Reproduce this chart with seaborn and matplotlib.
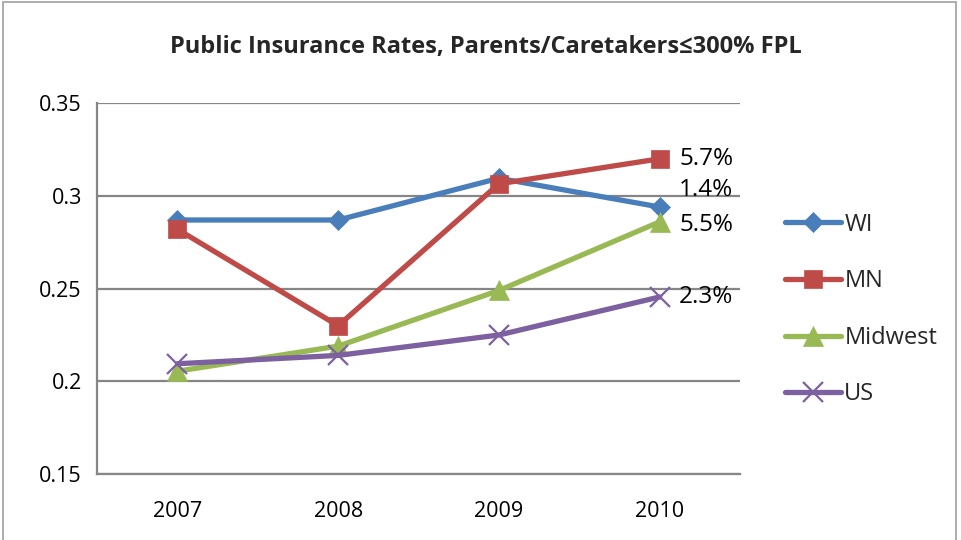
import matplotlib
matplotlib.use("Agg")
import matplotlib.pyplot as plt
import seaborn as sns
import pandas as pd
from matplotlib.lines import Line2D
from matplotlib.patches import Rectangle

years = [2007, 2008, 2009, 2010]
wi = [0.287, 0.287, 0.3095, 0.294]
mn = [0.282, 0.230, 0.3065, 0.320]
midwest = [0.2055, 0.219, 0.249, 0.286]
us = [0.2095, 0.214, 0.225, 0.2455]
series_names = ["WI", "MN", "Midwest", "US"]
end_labels = ["1.4%", "5.7%", "5.5%", "2.3%"]
title = "Public Insurance Rates, Parents/Caretakers\u2264300% FPL"

colors = ["#4A7EBB", "#BE4B48", "#98B954", "#7D60A0"]
markers = ["D", "s", "^", "x"]
msizes = [10.5, 13.5, 14, 14]
label_offsets = [(14, 12), (14, 0), (14, -2), (14, 0)]
LW = 3.8

sns.set_theme(style="white")
plt.rcParams['font.family'] = ['Open Sans', 'DejaVu Sans']

df = pd.DataFrame({
    "year": years * 4,
    "value": wi + mn + midwest + us,
    "series": sum([[n] * 4 for n in series_names], []),
})

fig = plt.figure(figsize=(9.61, 5.40), dpi=100)
ax = fig.add_axes([0.101, 0.122, 0.669, 0.687])


def mew(m):
    return 1.6 if m == "x" else 0.5


for i, name in enumerate(series_names):
    sub = df[df["series"] == name]
    sns.lineplot(data=sub, x="year", y="value", ax=ax, color=colors[i],
                 marker=markers[i], markersize=msizes[i], linewidth=LW,
                 markeredgewidth=mew(markers[i]),
                 markeredgecolor=colors[i], legend=False)
    lastv = sub["value"].iloc[-1]
    ax.annotate(end_labels[i], xy=(years[-1], lastv), xytext=label_offsets[i],
                textcoords="offset points", ha="left", va="center",
                fontsize=17.5, color="#000000")

ax.set_xlim(2006.5, 2010.5)
ax.set_ylim(0.15, 0.35)
ax.set_xticks(years)
ax.set_xticklabels([str(y) for y in years])
ax.set_yticks([0.15, 0.2, 0.25, 0.3, 0.35])
ax.set_yticklabels(["0.15", "0.2", "0.25", "0.3", "0.35"])
ax.tick_params(axis="both", labelsize=15.5, length=0, colors="#000000")
ax.tick_params(axis="x", pad=19)
ax.tick_params(axis="y", pad=11)
ax.set_xlabel("")
ax.set_ylabel("")
ax.yaxis.grid(True, color="#868686", linewidth=1.6)
ax.set_axisbelow(True)
for s in ["top", "right"]:
    ax.spines[s].set_visible(False)
for s in ["left", "bottom"]:
    ax.spines[s].set_color("#868686")
    ax.spines[s].set_linewidth(1.6)

fig.text(486 / 961, 1 - 47 / 540, title, fontsize=17, fontweight="bold",
         ha="center", va="center")

handles = [Line2D([0], [0], color=colors[i], marker=markers[i], markersize=msizes[i],
                  linewidth=LW, markeredgecolor=colors[i],
                  markeredgewidth=mew(markers[i]))
           for i in range(4)]
leg = ax.legend(handles, series_names, loc="upper left", bbox_to_anchor=(1.055, 0.73),
                frameon=False, fontsize=17, labelspacing=1.38, handlelength=2.4,
                handletextpad=0.12, borderaxespad=0)

fig.patches.append(Rectangle((3 / 961, -0.02), 953 / 961, 1.02 - 2 / 540,
                             transform=fig.transFigure, fill=False,
                             edgecolor="#a0a0a0", linewidth=1.2))

fig.savefig("out.png", dpi=100)
